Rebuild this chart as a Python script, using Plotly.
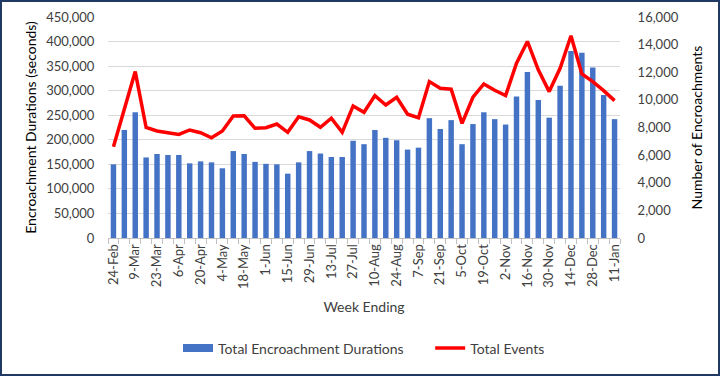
import plotly.graph_objects as go

weeks = ["24-Feb","2-Mar","9-Mar","16-Mar","23-Mar","30-Mar","6-Apr","13-Apr","20-Apr","27-Apr",
         "4-May","11-May","18-May","25-May","1-Jun","8-Jun","15-Jun","22-Jun","29-Jun","6-Jul",
         "13-Jul","20-Jul","27-Jul","3-Aug","10-Aug","17-Aug","24-Aug","31-Aug","7-Sep","14-Sep",
         "21-Sep","28-Sep","5-Oct","12-Oct","19-Oct","26-Oct","2-Nov","9-Nov","16-Nov","23-Nov",
         "30-Nov","7-Dec","14-Dec","21-Dec","28-Dec","4-Jan","11-Jan"]

durations = [150000,220000,256000,164000,171000,169000,169000,152000,156000,154000,
             142000,177000,171000,155000,151000,150000,131000,154000,177000,172000,
             165000,165000,198000,191000,220000,204000,199000,180000,184000,244000,
             222000,240000,191000,232000,256000,242000,231000,288000,338000,281000,
             245000,310000,381000,377000,347000,291000,242000]

events = [6600,9300,12050,8000,7750,7620,7500,7820,7620,7260,
          7750,8830,8850,7940,7980,8250,7650,8770,8545,8015,
          8670,7650,9560,9100,10310,9630,10190,8960,8710,11325,
          10845,10770,8300,10190,11150,10700,10310,12660,14230,12170,
          10600,12290,14640,11880,11325,10670,9945]

tick_text = [w if i % 2 == 0 else "" for i, w in enumerate(weeks)]

FONT = "Lato"
W, H = 720, 376
ML, MR, MT, MB = 108, 100, 17, 138
PW, PH = W - ML - MR, H - MT - MB
BLUE = "#4472C4"

fig = go.Figure()
fig.add_trace(go.Bar(x=weeks, y=durations, name="Total Encroachment Durations",
                     marker=dict(color=BLUE, line=dict(width=0)), showlegend=False))
fig.add_trace(go.Scatter(x=[None], y=[None], name="Total Encroachment Durations      ", mode="lines",
                         line=dict(color=BLUE, width=8), showlegend=True))
fig.add_trace(go.Scatter(x=weeks, y=events, name="Total Events", yaxis="y2", mode="lines",
                         line=dict(color="#FF0000", width=3.5)))

fig.update_layout(
    width=W, height=H,
    margin=dict(l=ML, r=MR, t=MT, b=MB, autoexpand=False),
    paper_bgcolor="white", plot_bgcolor="white",
    font=dict(family=FONT, size=13, color="#404040"),
    bargap=0.5,
    showlegend=True,
    legend=dict(orientation="h", x=0.5, xanchor="center", y=-0.5, yanchor="middle",
                font=dict(size=14, color="#404040"), traceorder="normal"),
    xaxis=dict(type="category", tickmode="array", tickvals=weeks, ticktext=tick_text,
               tickangle=-90, tickson="boundaries", ticks="outside", ticklen=5,
               tickcolor="#bfbfbf", showline=True, linecolor="#bfbfbf", linewidth=1,
               showgrid=False, tickfont=dict(size=13, color="#404040"),
               title=dict(text="Week Ending", font=dict(size=14, color="#404040"), standoff=14)),
    yaxis=dict(range=[0, 450000], dtick=50000, tickformat=",", showgrid=True,
               gridcolor="#d9d9d9", gridwidth=1, zeroline=False, showline=False,
               ticks="outside", ticklen=10, tickcolor="rgba(0,0,0,0)",
               tickfont=dict(size=13, color="#404040"),
               title=dict(text="Encroachment Durations (seconds)",
                          font=dict(size=14, color="#000000"), standoff=6)),
    yaxis2=dict(range=[0, 16000], dtick=2000, tickformat=",", overlaying="y", side="right",
                showgrid=False, zeroline=False, showline=False,
                ticks="outside", ticklen=14, tickcolor="rgba(0,0,0,0)",
                tickfont=dict(size=13, color="#404040"),
                title=dict(text="Number of Encroachments",
                           font=dict(size=14, color="#000000"), standoff=14)),
    shapes=[dict(type="rect", xref="paper", yref="paper",
                 x0=(-ML + 1) / PW, x1=(PW + MR - 1) / PW,
                 y0=(-MB + 1) / PH, y1=(PH + MT - 1) / PH,
                 line=dict(color="#1F3864", width=2), fillcolor="rgba(0,0,0,0)", layer="above")],
)

fig.write_html("out.html", config={"displayModeBar": False},
               post_script="document.body.style.margin='0';")
